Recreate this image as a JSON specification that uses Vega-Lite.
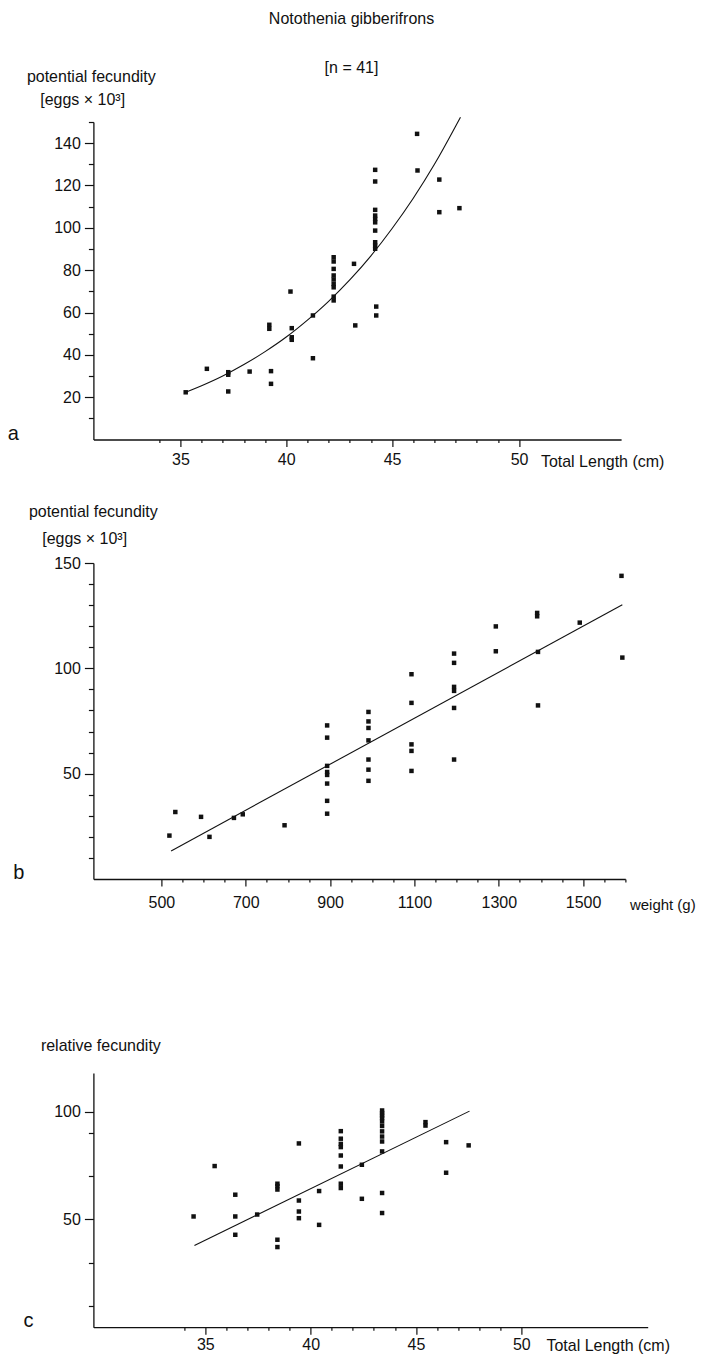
{
  "$schema": "https://vega.github.io/schema/vega-lite/v6.json",
  "background": "white",
  "padding": {"left": 7.4, "top": 11, "right": 5, "bottom": 2},
  "title": {
    "text": "Notothenia gibberifrons",
    "subtitle": "[n = 41]",
    "anchor": "middle",
    "frame": "bounds",
    "font": "Liberation Sans",
    "subtitleFont": "Liberation Sans",
    "fontSize": 16,
    "subtitleFontSize": 16,
    "fontWeight": "normal",
    "color": "#111",
    "subtitleColor": "#111",
    "subtitlePadding": 33,
    "offset": -8
  },
  "config": {
    "view": {"stroke": null},
    "font": "Liberation Sans",
    "axis": {
      "grid": false,
      "domainColor": "#111",
      "domainWidth": 1.3,
      "tickColor": "#111",
      "tickWidth": 1.2,
      "labelColor": "#111",
      "labelFont": "Liberation Sans",
      "labelFontSize": 16,
      "labelFlush": false,
      "labelOverlap": false,
      "titleFont": "Liberation Sans",
      "titleFontSize": 16,
      "titleFontWeight": "normal",
      "titleColor": "#111"
    }
  },
  "datasets": {
    "a": [
      {"length": 35.25, "fecundity": 22.3},
      {"length": 36.25, "fecundity": 33.4},
      {"length": 37.26, "fecundity": 31.8},
      {"length": 37.26, "fecundity": 30.6},
      {"length": 37.26, "fecundity": 22.7},
      {"length": 38.27, "fecundity": 32.1},
      {"length": 39.28, "fecundity": 32.3},
      {"length": 39.28, "fecundity": 26.3},
      {"length": 39.2, "fecundity": 54.2},
      {"length": 39.2, "fecundity": 52.3},
      {"length": 40.2, "fecundity": 69.9},
      {"length": 40.26, "fecundity": 52.6},
      {"length": 40.26, "fecundity": 48.3},
      {"length": 40.26, "fecundity": 47.1},
      {"length": 41.26, "fecundity": 58.6},
      {"length": 41.26, "fecundity": 38.4},
      {"length": 42.24, "fecundity": 86.1},
      {"length": 42.24, "fecundity": 84.1},
      {"length": 42.24, "fecundity": 80.6},
      {"length": 42.24, "fecundity": 77.5},
      {"length": 42.24, "fecundity": 75.6},
      {"length": 42.24, "fecundity": 73.5},
      {"length": 42.24, "fecundity": 71.9},
      {"length": 42.24, "fecundity": 67.5},
      {"length": 42.24, "fecundity": 65.7},
      {"length": 43.2, "fecundity": 83.0},
      {"length": 43.26, "fecundity": 53.9},
      {"length": 44.2, "fecundity": 127.4},
      {"length": 44.2, "fecundity": 121.9},
      {"length": 44.2, "fecundity": 108.5},
      {"length": 44.2, "fecundity": 105.8},
      {"length": 44.2, "fecundity": 104.2},
      {"length": 44.2, "fecundity": 102.6},
      {"length": 44.2, "fecundity": 98.7},
      {"length": 44.2, "fecundity": 93.2},
      {"length": 44.2, "fecundity": 91.6},
      {"length": 44.2, "fecundity": 90.1},
      {"length": 44.25, "fecundity": 62.8},
      {"length": 44.25, "fecundity": 58.6},
      {"length": 46.18, "fecundity": 144.4},
      {"length": 46.2, "fecundity": 127.1},
      {"length": 47.23, "fecundity": 122.8},
      {"length": 47.23, "fecundity": 107.4},
      {"length": 48.18, "fecundity": 109.3}
    ],
    "aLine": [
      {"length": 35.25, "fecundity": 22.3},
      {"length": 36, "fecundity": 25.4},
      {"length": 37, "fecundity": 30.0},
      {"length": 38, "fecundity": 35.4},
      {"length": 39, "fecundity": 41.5},
      {"length": 40, "fecundity": 48.4},
      {"length": 41, "fecundity": 56.4},
      {"length": 42, "fecundity": 65.3},
      {"length": 43, "fecundity": 75.4},
      {"length": 44, "fecundity": 86.8},
      {"length": 45, "fecundity": 99.7},
      {"length": 46, "fecundity": 114.0},
      {"length": 47, "fecundity": 130.0},
      {"length": 48, "fecundity": 148.0},
      {"length": 48.23, "fecundity": 152.3}
    ],
    "b": [
      {"weight": 1591, "fecundity": 143.9},
      {"weight": 1391, "fecundity": 126.3},
      {"weight": 1391, "fecundity": 124.7},
      {"weight": 1293, "fecundity": 119.9},
      {"weight": 1492, "fecundity": 121.7},
      {"weight": 1194, "fecundity": 107.0},
      {"weight": 1194, "fecundity": 102.6},
      {"weight": 1293, "fecundity": 108.1},
      {"weight": 1393, "fecundity": 107.8},
      {"weight": 1593, "fecundity": 105.1},
      {"weight": 1093, "fecundity": 97.2},
      {"weight": 1194, "fecundity": 91.2},
      {"weight": 1194, "fecundity": 89.3},
      {"weight": 1093, "fecundity": 83.6},
      {"weight": 1393, "fecundity": 82.4},
      {"weight": 1194, "fecundity": 81.2},
      {"weight": 991, "fecundity": 79.3},
      {"weight": 991, "fecundity": 74.8},
      {"weight": 991, "fecundity": 71.7},
      {"weight": 893, "fecundity": 72.9},
      {"weight": 893, "fecundity": 67.1},
      {"weight": 991, "fecundity": 65.8},
      {"weight": 1093, "fecundity": 63.9},
      {"weight": 1093, "fecundity": 60.8},
      {"weight": 991, "fecundity": 56.7},
      {"weight": 1194, "fecundity": 56.7},
      {"weight": 893, "fecundity": 53.7},
      {"weight": 991, "fecundity": 51.9},
      {"weight": 893, "fecundity": 50.8},
      {"weight": 1093, "fecundity": 51.3},
      {"weight": 893, "fecundity": 49.4},
      {"weight": 991, "fecundity": 46.6},
      {"weight": 893, "fecundity": 45.3},
      {"weight": 893, "fecundity": 37.1},
      {"weight": 893, "fecundity": 31.0},
      {"weight": 533, "fecundity": 31.8},
      {"weight": 594, "fecundity": 29.5},
      {"weight": 672, "fecundity": 29.0},
      {"weight": 693, "fecundity": 30.7},
      {"weight": 792, "fecundity": 25.5},
      {"weight": 519, "fecundity": 20.6},
      {"weight": 614, "fecundity": 20.0}
    ],
    "bLine": [
      {"weight": 523, "fecundity": 13.3},
      {"weight": 1593, "fecundity": 130.2}
    ],
    "c": [
      {"length": 34.44, "relative": 51.4},
      {"length": 35.44, "relative": 74.8},
      {"length": 36.42, "relative": 61.5},
      {"length": 36.42, "relative": 51.4},
      {"length": 36.42, "relative": 42.9},
      {"length": 37.46, "relative": 52.3},
      {"length": 38.42, "relative": 66.6},
      {"length": 38.42, "relative": 65.5},
      {"length": 38.42, "relative": 63.9},
      {"length": 38.42, "relative": 40.6},
      {"length": 38.42, "relative": 37.2},
      {"length": 39.44, "relative": 85.3},
      {"length": 39.44, "relative": 58.8},
      {"length": 39.44, "relative": 53.7},
      {"length": 39.44, "relative": 50.6},
      {"length": 40.4, "relative": 63.2},
      {"length": 40.4, "relative": 47.5},
      {"length": 41.43, "relative": 91.0},
      {"length": 41.43, "relative": 87.5},
      {"length": 41.43, "relative": 85.1},
      {"length": 41.43, "relative": 83.6},
      {"length": 41.43, "relative": 79.7},
      {"length": 41.43, "relative": 74.6},
      {"length": 41.43, "relative": 66.6},
      {"length": 41.43, "relative": 64.6},
      {"length": 42.43, "relative": 75.4},
      {"length": 42.43, "relative": 59.6},
      {"length": 43.39, "relative": 100.6},
      {"length": 43.39, "relative": 99.4},
      {"length": 43.39, "relative": 98.3},
      {"length": 43.39, "relative": 97.1},
      {"length": 43.39, "relative": 95.5},
      {"length": 43.39, "relative": 93.4},
      {"length": 43.39, "relative": 90.9},
      {"length": 43.39, "relative": 88.5},
      {"length": 43.39, "relative": 86.2},
      {"length": 43.39, "relative": 81.6},
      {"length": 43.39, "relative": 62.3},
      {"length": 43.39, "relative": 53.0},
      {"length": 45.45, "relative": 95.2},
      {"length": 45.45, "relative": 93.6},
      {"length": 46.43, "relative": 85.9},
      {"length": 46.43, "relative": 71.7},
      {"length": 47.5, "relative": 84.4}
    ],
    "cLine": [
      {"length": 34.48, "relative": 37.9},
      {"length": 47.54, "relative": 100.3}
    ]
  },
  "spacing": 33,
  "vconcat": [
    {
      "width": 527.7,
      "height": 317.5,
      "title": {"text": "a", "orient": "left", "anchor": "start", "frame": "group", "angle": 0, "align": "left", "baseline": "alphabetic", "fontSize": 20, "fontWeight": "normal", "font": "Liberation Sans", "color": "#111", "offset": 7.5},
      "resolve": {"axis": {"x": "independent", "y": "independent"}},
      "layer": [
        {
          "data": {"name": "a"},
          "mark": {"type": "square", "size": 20, "color": "#111", "opacity": 1},
          "encoding": {
            "x": {
              "field": "length", "type": "quantitative",
              "scale": {"domain": [30.89, 55.817], "nice": false, "zero": false},
              "axis": {
                "orient": "bottom",
                "values": [35, 40, 45, 51],
                "labelExpr": "datum.value == 51 ? '50' : datum.label",
                "labelOverlap": false,
                "tickSize": 7,
                "labelPadding": 5,
                "title": "Total Length (cm)",
                "titleX": 447, "titleY": 27, "titleAlign": "left", "titleBaseline": "alphabetic"
              }
            },
            "y": {
              "field": "fecundity", "type": "quantitative",
              "scale": {"domain": [0, 150], "nice": false, "zero": false},
              "axis": {
                "orient": "left",
                "values": [20, 40, 60, 80, 100, 120, 140],
                "labelOverlap": false,
                "tickSize": 9,
                "labelPadding": 4,
                "title": ["potential fecundity", "\u200b\u00a0\u00a0\u00a0[eggs × 10³]"],
                "titleAngle": 0, "titleX": -67, "titleY": -40.7, "titleAlign": "left", "titleBaseline": "alphabetic", "titleLineHeight": 23
              }
            }
          }
        },
        {
          "data": {"name": "aLine"},
          "mark": {"type": "line", "color": "#111", "strokeWidth": 1.1, "interpolate": "monotone"},
          "encoding": {
            "x": {
              "field": "length", "type": "quantitative",
              "axis": {"orient": "bottom", "values": [34,36,37,38,39,41,42,43,44,46,47,48,49,50], "labels": false, "domain": false, "tickSize": 3, "title": null}
            },
            "y": {
              "field": "fecundity", "type": "quantitative",
              "axis": {"orient": "left", "values": [10,30,50,70,90,110,130,150], "labels": false, "domain": false, "tickSize": 5, "title": null}
            }
          }
        }
      ]
    },
    {
      "width": 531.9,
      "height": 316,
      "title": {"text": "b", "orient": "left", "anchor": "start", "frame": "group", "angle": 0, "align": "left", "baseline": "alphabetic", "fontSize": 20, "fontWeight": "normal", "font": "Liberation Sans", "color": "#111", "offset": 4},
      "resolve": {"axis": {"x": "independent", "y": "independent"}},
      "layer": [
        {
          "data": {"name": "b"},
          "mark": {"type": "square", "size": 20, "color": "#111", "opacity": 1},
          "encoding": {
            "x": {
              "field": "weight", "type": "quantitative",
              "scale": {"domain": [338.75, 1600], "nice": false, "zero": false},
              "axis": {
                "orient": "bottom",
                "values": [500, 700, 900, 1100, 1300, 1500],
                "format": "d",
                "labelOverlap": false,
                "tickSize": 7,
                "labelPadding": 9,
                "title": ["weight (g)", "\u00a0", "\u00a0", "\u00a0"],
                "titleFontSize": 15,
                "titleLineHeight": 30.3,
                "titleX": 536, "titleY": 31, "titleAlign": "left", "titleBaseline": "alphabetic"
              }
            },
            "y": {
              "field": "fecundity", "type": "quantitative",
              "scale": {"domain": [0, 150], "nice": false, "zero": false},
              "axis": {
                "orient": "left",
                "values": [50, 100, 150],
                "labelOverlap": false,
                "tickSize": 9,
                "labelPadding": 4,
                "title": ["potential fecundity", "\u200b\u00a0\u00a0\u00a0[eggs × 10³]"],
                "titleAngle": 0, "titleX": -65, "titleY": -46.3, "titleAlign": "left", "titleBaseline": "alphabetic", "titleLineHeight": 27
              }
            }
          }
        },
        {
          "data": {"name": "bLine"},
          "mark": {"type": "line", "color": "#111", "strokeWidth": 1.1},
          "encoding": {
            "x": {
              "field": "weight", "type": "quantitative",
              "axis": {"orient": "bottom", "values": [550,600,650,750,800,850,950,1000,1050,1150,1200,1250,1350,1400,1450,1550,1600], "labels": false, "domain": false, "tickSize": 3, "title": null}
            },
            "y": {
              "field": "fecundity", "type": "quantitative",
              "axis": {"orient": "left", "values": [10,20,30,40,60,70,80,90,110,120,130,140], "labels": false, "domain": false, "tickSize": 5, "title": null}
            }
          }
        }
      ]
    },
    {
      "width": 554.3,
      "height": 254.2,
      "title": {"text": "c", "orient": "left", "anchor": "start", "frame": "group", "angle": 0, "align": "left", "baseline": "alphabetic", "fontSize": 20, "fontWeight": "normal", "font": "Liberation Sans", "color": "#111", "offset": 7},
      "resolve": {"axis": {"x": "independent", "y": "independent"}},
      "layer": [
        {
          "data": {"name": "c"},
          "mark": {"type": "square", "size": 20, "color": "#111", "opacity": 1},
          "encoding": {
            "x": {
              "field": "length", "type": "quantitative",
              "scale": {"domain": [29.684, 56], "nice": false, "zero": false},
              "axis": {
                "orient": "bottom",
                "values": [35, 40, 45, 50],
                "labelOverlap": false,
                "tickSize": 7,
                "labelPadding": 2.5,
                "title": "Total Length (cm)",
                "titleX": 452.6, "titleY": 23, "titleAlign": "left", "titleBaseline": "alphabetic"
              }
            },
            "y": {
              "field": "relative", "type": "quantitative",
              "scale": {"domain": [0, 118], "nice": false, "zero": false},
              "axis": {
                "orient": "left",
                "values": [50, 100],
                "labelOverlap": false,
                "tickSize": 9,
                "labelPadding": 4,
                "title": "relative fecundity",
                "titleAngle": 0, "titleX": -53, "titleY": -22.3, "titleAlign": "left", "titleBaseline": "alphabetic"
              }
            }
          }
        },
        {
          "data": {"name": "cLine"},
          "mark": {"type": "line", "color": "#111", "strokeWidth": 1.1},
          "encoding": {
            "x": {
              "field": "length", "type": "quantitative",
              "axis": {"orient": "bottom", "values": [34,36,37,38,39,41,42,43,44,46,47,48,49], "labels": false, "domain": false, "tickSize": 3, "title": null}
            },
            "y": {
              "field": "relative", "type": "quantitative",
              "axis": {"orient": "left", "values": [10,30,70,90], "labels": false, "domain": false, "tickSize": 5, "title": null}
            }
          }
        }
      ]
    }
  ]
}
